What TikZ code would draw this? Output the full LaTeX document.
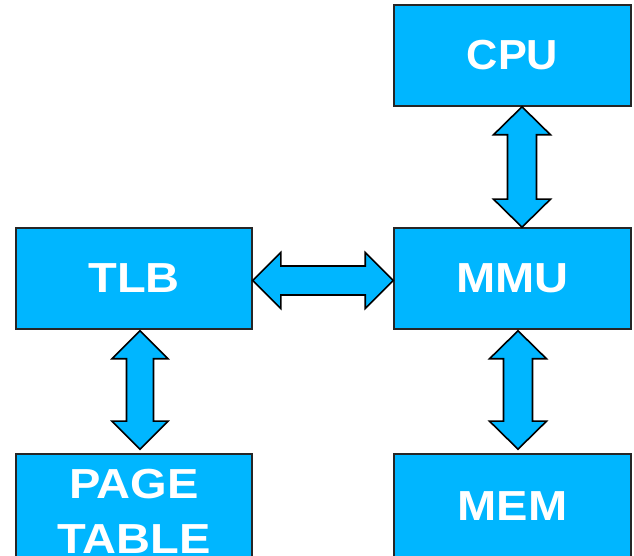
\documentclass[tikz,border=0pt]{standalone}
\usepackage{fontspec}
\setmainfont{Liberation Sans}
\newfontfamily\widefont{Liberation Sans}[FakeStretch=1.12]
\newfontfamily\cpufont{Liberation Sans}[FakeStretch=1.03]
\usetikzlibrary{calc}
\definecolor{boxblue}{RGB}{0,182,255}
\newcommand\vblockarrow[4]{%
  \draw[barrow] let \p1=(#1), \p2=(#2) in
   (\x1,\y1) -- ({\x1+#3pt},{\y1-28pt}) -- ({\x1+#4pt},{\y1-28pt})
   -- ({\x1+#4pt},{\y2+28pt}) -- ({\x1+#3pt},{\y2+28pt}) -- (\x1,\y2)
   -- ({\x1-#3pt},{\y2+28pt}) -- ({\x1-#4pt},{\y2+28pt})
   -- ({\x1-#4pt},{\y1-28pt}) -- ({\x1-#3pt},{\y1-28pt}) -- cycle;}
\newcommand\hblockarrow[4]{%
  \draw[barrow] let \p1=(#1), \p2=(#2) in
   (\x1,\y1) -- ({\x1+28pt},{\y1+#3pt}) -- ({\x1+28pt},{\y1+#4pt})
   -- ({\x2-28pt},{\y1+#4pt}) -- ({\x2-28pt},{\y1+#3pt}) -- (\x2,\y1)
   -- ({\x2-28pt},{\y1-#3pt}) -- ({\x2-28pt},{\y1-#4pt})
   -- ({\x1+28pt},{\y1-#4pt}) -- ({\x1+28pt},{\y1-#3pt}) -- cycle;}
\begin{document}
\begin{tikzpicture}[x=1pt,y=1pt,
  box/.style={draw=black!85, line width=1.6pt, fill=boxblue, text=white,
    inner sep=0pt, align=center,
    font=\widefont\fontsize{42}{55}\selectfont\bfseries},
  barrow/.style={draw=black, line width=1.6pt, fill=boxblue, line join=miter}]
\fill[white] (0,0) rectangle (634,556);
\useasboundingbox (0,0) rectangle (634,556);
\node[box, minimum width=237pt, minimum height=101pt,
  font=\cpufont\fontsize{42}{55}\selectfont\bfseries] (cpu) at (512.5,500.5) {\raisebox{-3pt}{CPU}};
\node[box, minimum width=236pt, minimum height=101pt] (tlb) at (134,277.5) {\raisebox{-1pt}{TLB}};
\node[box, minimum width=237pt, minimum height=101pt] (mmu) at (512.5,277.5) {\raisebox{-1pt}{MMU}};
\node[box, minimum width=236pt, minimum height=114pt] (page) at (134,45) {PAGE\\TABLE};
\node[box, minimum width=237pt, minimum height=104pt] (mem) at (512.5,50) {\raisebox{-2pt}{MEM}};
\coordinate (a1t) at ($(cpu.south)+(9.5,0)$);
\coordinate (a1b) at ($(mmu.north)+(9.5,0)$);
\coordinate (a2l) at ($(tlb.east)+(0,-2)$);
\coordinate (a2r) at ($(mmu.west)+(0,-2)$);
\coordinate (a3t) at ($(tlb.south)+(6,-1)$);
\coordinate (a3b) at ($(page.north)+(6,4)$);
\coordinate (a4t) at ($(mmu.south)+(5.5,-1)$);
\coordinate (a4b) at ($(mem.north)+(5.5,4)$);
\vblockarrow{a1t}{a1b}{28.5}{14.5}
\hblockarrow{a2l}{a2r}{28}{14.5}
\vblockarrow{a3t}{a3b}{28}{13.5}
\vblockarrow{a4t}{a4b}{28.5}{14.5}
\end{tikzpicture}
\end{document}
